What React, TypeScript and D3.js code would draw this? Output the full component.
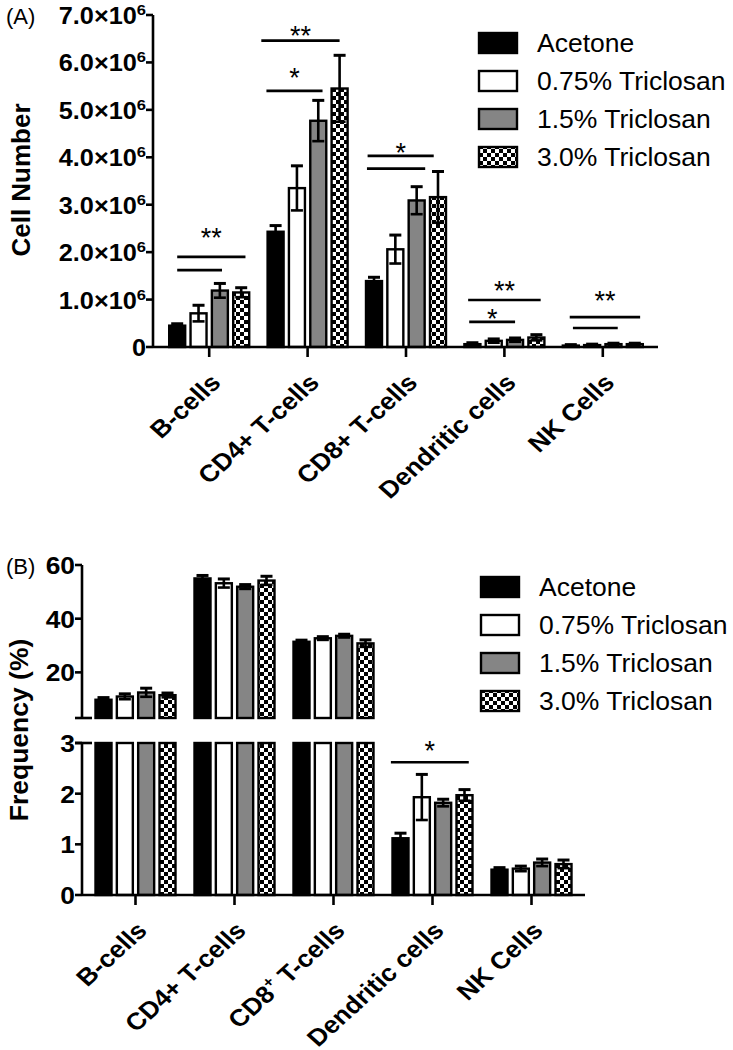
import * as d3 from "d3";

const W = 733;
const H = 1050;
const FONT = "'Liberation Sans', Arial, Helvetica, sans-serif";

const categories = ["B-cells", "CD4+ T-cells", "CD8+ T-cells", "Dendritic cells", "NK Cells"];
const labelsA = ["B-cells", "CD4+ T-cells", "CD8+ T-cells", "Dendritic cells", "NK Cells"];
const labelsB = ["B-cells", "CD4+ T-cells", "CD8^+ T-cells", "Dendritic cells", "NK Cells"];
const seriesNames = ["Acetone", "0.75% Triclosan", "1.5% Triclosan", "3.0% Triclosan"];
const seriesFills = ["#000000", "#ffffff", "#858585", "url(#checker)"];

// (A) cell numbers, mean and SEM per treatment
const acetoneA = [0.45e6, 2.43e6, 1.39e6, 0.06e6, 0.03e6];
const lowA = [0.71e6, 3.35e6, 2.06e6, 0.13e6, 0.04e6];
const midA = [1.19e6, 4.77e6, 3.09e6, 0.15e6, 0.06e6];
const highA = [1.15e6, 5.45e6, 3.16e6, 0.2e6, 0.06e6];
const acetoneErrA = [0.04e6, 0.13e6, 0.08e6, 0.03e6, 0.02e6];
const lowErrA = [0.17e6, 0.47e6, 0.3e6, 0.04e6, 0.02e6];
const midErrA = [0.15e6, 0.43e6, 0.29e6, 0.04e6, 0.02e6];
const highErrA = [0.1e6, 0.7e6, 0.54e6, 0.06e6, 0.02e6];
const ticksA = [0, 1e6, 2e6, 3e6, 4e6, 5e6, 6e6, 7e6];

// (B) frequency (%)
const acetoneB = [9.8, 55.0, 31.4, 1.12, 0.5];
const lowB = [11.0, 53.2, 32.7, 1.93, 0.52];
const midB = [12.5, 51.9, 33.6, 1.82, 0.64];
const highB = [11.5, 54.2, 30.8, 1.97, 0.61];
const acetoneErrB = [0.8, 1.1, 0.6, 0.1, 0.04];
const lowErrB = [1.0, 1.6, 0.6, 0.45, 0.05];
const midErrB = [1.6, 0.8, 0.6, 0.07, 0.07];
const highErrB = [0.8, 1.6, 1.3, 0.11, 0.08];
const ticksUpperB = [20, 40, 60];
const ticksLowerB = [0, 1, 2, 3];

// significance brackets: bar-index span, line value, label value
const sigA = [
  { cat: "B-cells", from: 0, to: 3.2, y: 1.9e6, ly: 2.42e6, label: "**" },
  { cat: "B-cells", from: 0, to: 2.1, y: 1.62e6, ly: 0, label: "" },
  { cat: "CD4+ T-cells", from: -0.67, to: 3.0, y: 6.46e6, ly: 6.68e6, label: "**" },
  { cat: "CD4+ T-cells", from: -0.43, to: 2.2, y: 5.4e6, ly: 5.8e6, label: "*" },
  { cat: "CD8+ T-cells", from: -0.3, to: 2.8, y: 4.03e6, ly: 4.22e6, label: "*" },
  { cat: "CD8+ T-cells", from: -0.33, to: 2.4, y: 3.76e6, ly: 0, label: "" },
  { cat: "Dendritic cells", from: -0.2, to: 3.2, y: 0.99e6, ly: 1.31e6, label: "**" },
  { cat: "Dendritic cells", from: -0.15, to: 2.0, y: 0.53e6, ly: 0.72e6, label: "*" },
  { cat: "NK Cells", from: -0.05, to: 3.25, y: 0.63e6, ly: 1.1e6, label: "**" },
  { cat: "NK Cells", from: 0.1, to: 2.2, y: 0.4e6, ly: 0, label: "" },
];
const sigB = [{ cat: "Dendritic cells", from: -0.45, to: 3.2, y: 2.62, ly: 2.96, label: "*" }];

// the source figure is a little wider than tall, so text is stretched sideways
const SX = 1.1;

type Seg = { y: d3.ScaleLinear<number, number>; lo: number; hi: number };

const segFor = (segs: Seg[], v: number) => segs.find((s) => v <= s.hi) ?? segs[segs.length - 1];

function Bars({ x, inner, values, errs, segs }: any) {
  const bw = inner.bandwidth();
  const out: any[] = [];
  categories.forEach((c, ci) => {
    const cx = x(c) + x.bandwidth() / 2;
    seriesNames.forEach((s, si) => {
      const v = values[si][ci];
      const e = errs[si][ci];
      const bx = cx + inner(s);
      segs.forEach((sg: Seg, k: number) => {
        if (v <= sg.lo) return;
        const top = Math.min(v, sg.hi);
        out.push(
          <rect key={`b${ci}-${si}-${k}`} x={bx} y={sg.y(top)} width={bw} height={sg.y(sg.lo) - sg.y(top)}
            fill={seriesFills[si]} stroke="#000" strokeWidth={2.4} />
        );
      });
      const sg = segFor(segs, v);
      const yHi = sg.y(v + e);
      const yLo = sg.y(Math.max(sg.lo, v - e));
      const mx = bx + bw / 2;
      out.push(
        <g key={`e${ci}-${si}`} stroke="#000" strokeWidth={2.6}>
          <line x1={mx} x2={mx} y1={yHi} y2={yLo} />
          <line x1={mx - 6} x2={mx + 6} y1={yHi} y2={yHi} strokeWidth={3} />
          <line x1={mx - 6} x2={mx + 6} y1={yLo} y2={yLo} />
        </g>
      );
    });
  });
  return <g>{out}</g>;
}

function Sig({ x, inner, sig, y }: any) {
  const bw = inner.bandwidth();
  return (
    <g>
      {sig.map((d: any, i: number) => {
        const cx = x(d.cat) + x.bandwidth() / 2;
        const pos = d3.scaleLinear().domain([0, 3])
          .range([cx + inner(seriesNames[0]) + bw / 2, cx + inner(seriesNames[3]) + bw / 2]);
        const x1 = pos(d.from);
        const x2 = pos(d.to);
        return (
          <g key={i}>
            <line x1={x1} x2={x2} y1={y(d.y)} y2={y(d.y)} stroke="#000" strokeWidth={2.6} />
            {d.label && (
              <text x={(x1 + x2) / 2} y={y(d.ly) + 15} textAnchor="middle" fontSize={27}>
                {d.label}
              </text>
            )}
          </g>
        );
      })}
    </g>
  );
}

function Legend({ left, top, step }: { left: number; top: number; step: number }) {
  return (
    <g>
      {seriesNames.map((s, i) => (
        <g key={s} transform={`translate(${left},${top + i * step})`}>
          <rect x={0} y={-10} width={38} height={20} fill={seriesFills[i]} stroke="#000" strokeWidth={2.4} />
          <text x={58} y={9} fontSize={26.5}>{s}</text>
        </g>
      ))}
    </g>
  );
}

function CatLabel({ text, x, y }: { text: string; x: number; y: number }) {
  const parts = text.split("^");
  return (
    <text transform={`translate(${x},${y}) scale(${SX},1) rotate(-45)`} textAnchor="end" fontWeight="bold" fontSize={24}>
      {parts.length === 1 ? text : (
        <>
          {parts[0]}
          <tspan fontSize={15} dy={-10}>{parts[1][0]}</tspan>
          <tspan dy={10}>{parts[1].slice(1)}</tspan>
        </>
      )}
    </text>
  );
}

function TickLabel({ x, y, size, children }: any) {
  return (
    <text transform={`translate(${x},${y}) scale(${SX},1)`} textAnchor="end" fontWeight="bold" fontSize={size}>
      {children}
    </text>
  );
}

export default function App() {
  // panel A
  const axA = 153;
  const baseA = 347;
  const yA = d3.scaleLinear().domain([0, 7e6]).range([baseA, 15]);
  const xA = d3.scaleBand<string>().domain(categories).range([160, 652]).padding(0);
  const inner = d3.scaleBand<string>().domain(seriesNames).range([-40, 40]).paddingInner(0.25);

  // panel B (broken axis)
  const axB = 82;
  const baseB = 895;
  const yL = d3.scaleLinear().domain([0, 3]).range([baseB, 743]);
  const yU = d3.scaleLinear().domain([3, 60]).range([718, 565]);
  const xB = d3.scaleBand<string>().domain(categories).range([86, 581]).padding(0);
  const segsB: Seg[] = [{ y: yL, lo: 0, hi: 3 }, { y: yU, lo: 3, hi: 60 }];

  return (
    <svg width={W} height={H} viewBox={`0 0 ${W} ${H}`}
      style={{ position: "absolute", left: 0, top: 0, background: "#fff" }} fontFamily={FONT}>
      <defs>
        <pattern id="checker" width={8} height={8} patternUnits="userSpaceOnUse">
          <rect width={8} height={8} fill="#000" />
          <rect x={0} y={0} width={4} height={4} fill="#fff" />
          <rect x={4} y={4} width={4} height={4} fill="#fff" />
        </pattern>
      </defs>

      {/* ---------- (A) ---------- */}
      <text x={6} y={24} fontSize={22}>(A)</text>
      <text transform={`translate(30,180) rotate(-90)`} textAnchor="middle" fontWeight="bold" fontSize={26}>
        Cell Number
      </text>
      <Bars x={xA} inner={inner} values={[acetoneA, lowA, midA, highA]}
        errs={[acetoneErrA, lowErrA, midErrA, highErrA]} segs={[{ y: yA, lo: 0, hi: 7e6 }]} />
      <Sig x={xA} inner={inner} sig={sigA} y={yA} />
      <g stroke="#000" strokeWidth={2.6}>
        <line x1={axA} x2={axA} y1={yA(7e6)} y2={baseA} />
        <line x1={axA} x2={658} y1={baseA} y2={baseA} />
        {ticksA.map((t) => <line key={t} x1={axA - 7} x2={axA} y1={yA(t)} y2={yA(t)} />)}
        {categories.map((c) => {
          const cx = xA(c)! + xA.bandwidth() / 2;
          return <line key={c} x1={cx} x2={cx} y1={baseA} y2={baseA + 10} />;
        })}
      </g>
      {ticksA.map((t) => (
        <TickLabel key={t} x={axA - 7} y={yA(t) + 9} size={23}>
          {t === 0 ? "0" : (
            <>
              {(t / 1e6).toFixed(1)}×10
              <tspan fontSize={15} dy={-9}>6</tspan>
            </>
          )}
        </TickLabel>
      ))}
      {categories.map((c, i) => (
        <CatLabel key={c} text={labelsA[i]} x={xA(c)! + xA.bandwidth() / 2 + 13} y={baseA + 37} />
      ))}
      <Legend left={479} top={43} step={38} />

      {/* ---------- (B) ---------- */}
      <text x={6} y={574} fontSize={22}>(B)</text>
      <text transform={`translate(28,730) rotate(-90)`} textAnchor="middle" fontWeight="bold" fontSize={26.5}>
        Frequency (%)
      </text>
      <Bars x={xB} inner={inner} values={[acetoneB, lowB, midB, highB]}
        errs={[acetoneErrB, lowErrB, midErrB, highErrB]} segs={segsB} />
      <Sig x={xB} inner={inner} sig={sigB} y={yL} />
      <g stroke="#000" strokeWidth={2.6}>
        <line x1={axB} x2={axB} y1={yU(60)} y2={yU(3)} />
        <line x1={axB - 7} x2={axB + 10} y1={yU(3)} y2={yU(3)} />
        <line x1={axB} x2={axB} y1={yL(3)} y2={baseB} />
        <line x1={axB - 7} x2={axB + 10} y1={yL(3)} y2={yL(3)} />
        <line x1={axB} x2={585} y1={baseB} y2={baseB} />
        {ticksUpperB.map((t) => <line key={`u${t}`} x1={axB - 7} x2={axB} y1={yU(t)} y2={yU(t)} />)}
        {ticksLowerB.map((t) => <line key={`l${t}`} x1={axB - 7} x2={axB} y1={yL(t)} y2={yL(t)} />)}
        {categories.map((c) => {
          const cx = xB(c)! + xB.bandwidth() / 2;
          return <line key={c} x1={cx} x2={cx} y1={baseB} y2={baseB + 10} />;
        })}
      </g>
      {ticksUpperB.map((t) => (
        <TickLabel key={`u${t}`} x={axB - 7} y={yU(t) + 9} size={24}>{t}</TickLabel>
      ))}
      {ticksLowerB.map((t) => (
        <TickLabel key={`l${t}`} x={axB - 7} y={yL(t) + 9} size={24}>{t}</TickLabel>
      ))}
      {categories.map((c, i) => (
        <CatLabel key={c} text={labelsB[i]} x={xB(c)! + xB.bandwidth() / 2 + 13} y={baseB + 37} />
      ))}
      <Legend left={481} top={587} step={38} />
    </svg>
  );
}
